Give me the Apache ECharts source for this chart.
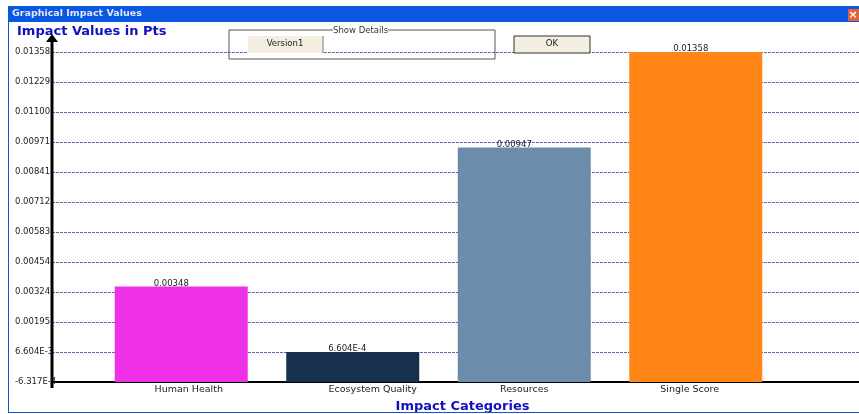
<!DOCTYPE html>
<html><head><meta charset="utf-8">
<style>html,body{margin:0;padding:0;background:#fff}#c{width:859px;height:414px}</style>
<script src="https://cdn.jsdelivr.net/npm/echarts@6/dist/echarts.min.js"></script></head>
<body><div id="c"></div>
<script>
const categories = ['Human Health','Ecosystem Quality','Resources','Single Score'];
const values = [0.00348,0.00066,0.00947,0.01358];
const valueLabels = ['0.00348','6.604E-4','0.00947','0.01358'];
const barColors = ['#ee2fe8','#17304d','#6b8dab','#ff8616'];
const tickValues = [-0.0006317,0.0006604,0.00195,0.00324,0.00454,0.00583,0.00712,0.00841,0.00971,0.011,0.01229,0.01358];
const tickLabels = ['-6.317E-4','6.604E-3','0.00195','0.00324','0.00454','0.00583','0.00712','0.00841','0.00971','0.01100','0.01229','0.01358'];
const labelShift = [-10,-5.5,-10,-5];
const categoryPadding = [[0,0,0,15],[0,0,0,40],[0,0,0,0],[0,12,0,0]];
const yMin = tickValues[0], yMax = tickValues[tickValues.length-1];
const font = 'DejaVu Sans';
const tickText = v => { let best=0; tickValues.forEach((t,i)=>{ if(Math.abs(t-v)<Math.abs(tickValues[best]-v)) best=i; }); return tickLabels[best]; };
const chart = echarts.init(document.getElementById('c'));
chart.setOption({
  animation:false,
  backgroundColor:'#fff',
  textStyle:{fontFamily:font},
  grid:[
    {left:52,right:0,top:52,height:330,outerBoundsMode:'none'},
    {left:95.5,width:686,top:52,height:330,outerBoundsMode:'none'}
  ],
  xAxis:[
    {gridIndex:0,type:'value',min:0,max:1,show:true,axisLabel:{show:false},axisTick:{show:false},splitLine:{show:false},
      axisLine:{show:true,onZero:false,lineStyle:{color:'#000',width:2}}},
    {gridIndex:1,type:'category',
      data:categories.map((c,i)=>({value:c,textStyle:{padding:categoryPadding[i]}})),
      axisLine:{show:false},axisTick:{show:false},
      axisLabel:{color:'#222',fontSize:9.5,margin:3,fontFamily:font},
      name:'Impact Categories',nameLocation:'middle',nameGap:17,
      nameTextStyle:{color:'#1010c0',fontWeight:'bold',fontSize:13,fontFamily:font,padding:[0,0,0,48]}}
  ],
  yAxis:[
    {gridIndex:0,type:'value',min:yMin,max:yMax,
      axisLine:{show:false},
      axisTick:{show:false,customValues:tickValues},
      axisLabel:{customValues:tickValues,formatter:v=>tickText(v),color:'#222',fontSize:8.5,margin:37,align:'left',fontFamily:font,hideOverlap:false,showMinLabel:true,showMaxLabel:true},
      splitLine:{show:true,lineStyle:{color:'#6464b4',type:[3,1],width:1}}},
    {gridIndex:1,type:'value',min:yMin,max:yMax,show:false,splitLine:{show:false}}
  ],
  series:[{
    type:'custom',name:'Impact Values',xAxisIndex:1,yAxisIndex:1,z:5,
    encode:{x:0,y:1},
    data:values.map((v,i)=>[i,v]),
    renderItem:(params,api)=>{
      const i=api.value(0), v=api.value(1);
      const top=api.coord([i,v]), base=api.coord([i,yMin]);
      const w=133;
      return {type:'group',children:[
        {type:'rect',shape:{x:top[0]-w/2,y:top[1],width:w,height:base[1]-top[1]},style:{fill:barColors[i]}},
        {type:'text',style:{x:top[0]+labelShift[i],y:top[1]-3,text:valueLabels[i],align:'center',verticalAlign:'middle',fill:'#222',font:'8.5px "DejaVu Sans"'}}
      ]};
    }
  }],
  graphic:[
    {type:'rect',shape:{x:8,y:6,width:851,height:16},style:{fill:'#0a57e0'},z:1},
    {type:'rect',shape:{x:8,y:22,width:1,height:391},style:{fill:'#1c50d0'},z:1},
    {type:'rect',shape:{x:8,y:412,width:851,height:1},style:{fill:'#1c50d0'},z:1},
    {type:'text',style:{x:12,y:9,text:'Graphical Impact Values',fill:'#dfe8ff',font:'bold 9.5px "DejaVu Sans"'},z:2},
    {type:'rect',shape:{x:848,y:9,width:11,height:12},style:{fill:'#e2623a'},z:2},
    {type:'text',style:{x:853,y:15,text:'×',align:'center',verticalAlign:'middle',fill:'#fff',font:'bold 11px "DejaVu Sans"'},z:3},
    {type:'text',style:{x:17,y:25,text:'Impact Values in Pts',fill:'#1010c0',font:'bold 13px "DejaVu Sans"'},z:10},
    {type:'line',shape:{x1:52,y1:40,x2:52,y2:388},style:{stroke:'#000',lineWidth:3},z:20},
    {type:'polygon',shape:{points:[[46,42],[52,34],[58,42]]},style:{fill:'#000'},z:20},
    {type:'rect',shape:{x:229,y:30,width:266,height:29},style:{fill:'rgba(255,255,255,0)',stroke:'#555',lineWidth:1},z:10},
    {type:'text',style:{x:333,y:26,text:'Show Details',fill:'#333',font:'8.5px "DejaVu Sans"',backgroundColor:'#fff'},z:11},
    {type:'rect',shape:{x:248,y:36,width:75,height:17},style:{fill:'#f3eee0'},z:11},
    {type:'line',shape:{x1:323,y1:36,x2:323,y2:53},style:{stroke:'#777',lineWidth:1},z:12},
    {type:'text',style:{x:285,y:44,text:'Version1',align:'center',verticalAlign:'middle',fill:'#222',font:'8.5px "DejaVu Sans"'},z:12},
    {type:'rect',shape:{x:514,y:36,width:76,height:17},style:{fill:'#f3eee0',stroke:'#333',lineWidth:1},z:11},
    {type:'text',style:{x:552,y:44,text:'OK',align:'center',verticalAlign:'middle',fill:'#222',font:'8.5px "DejaVu Sans"'},z:12}
  ]
});
</script></body></html>
